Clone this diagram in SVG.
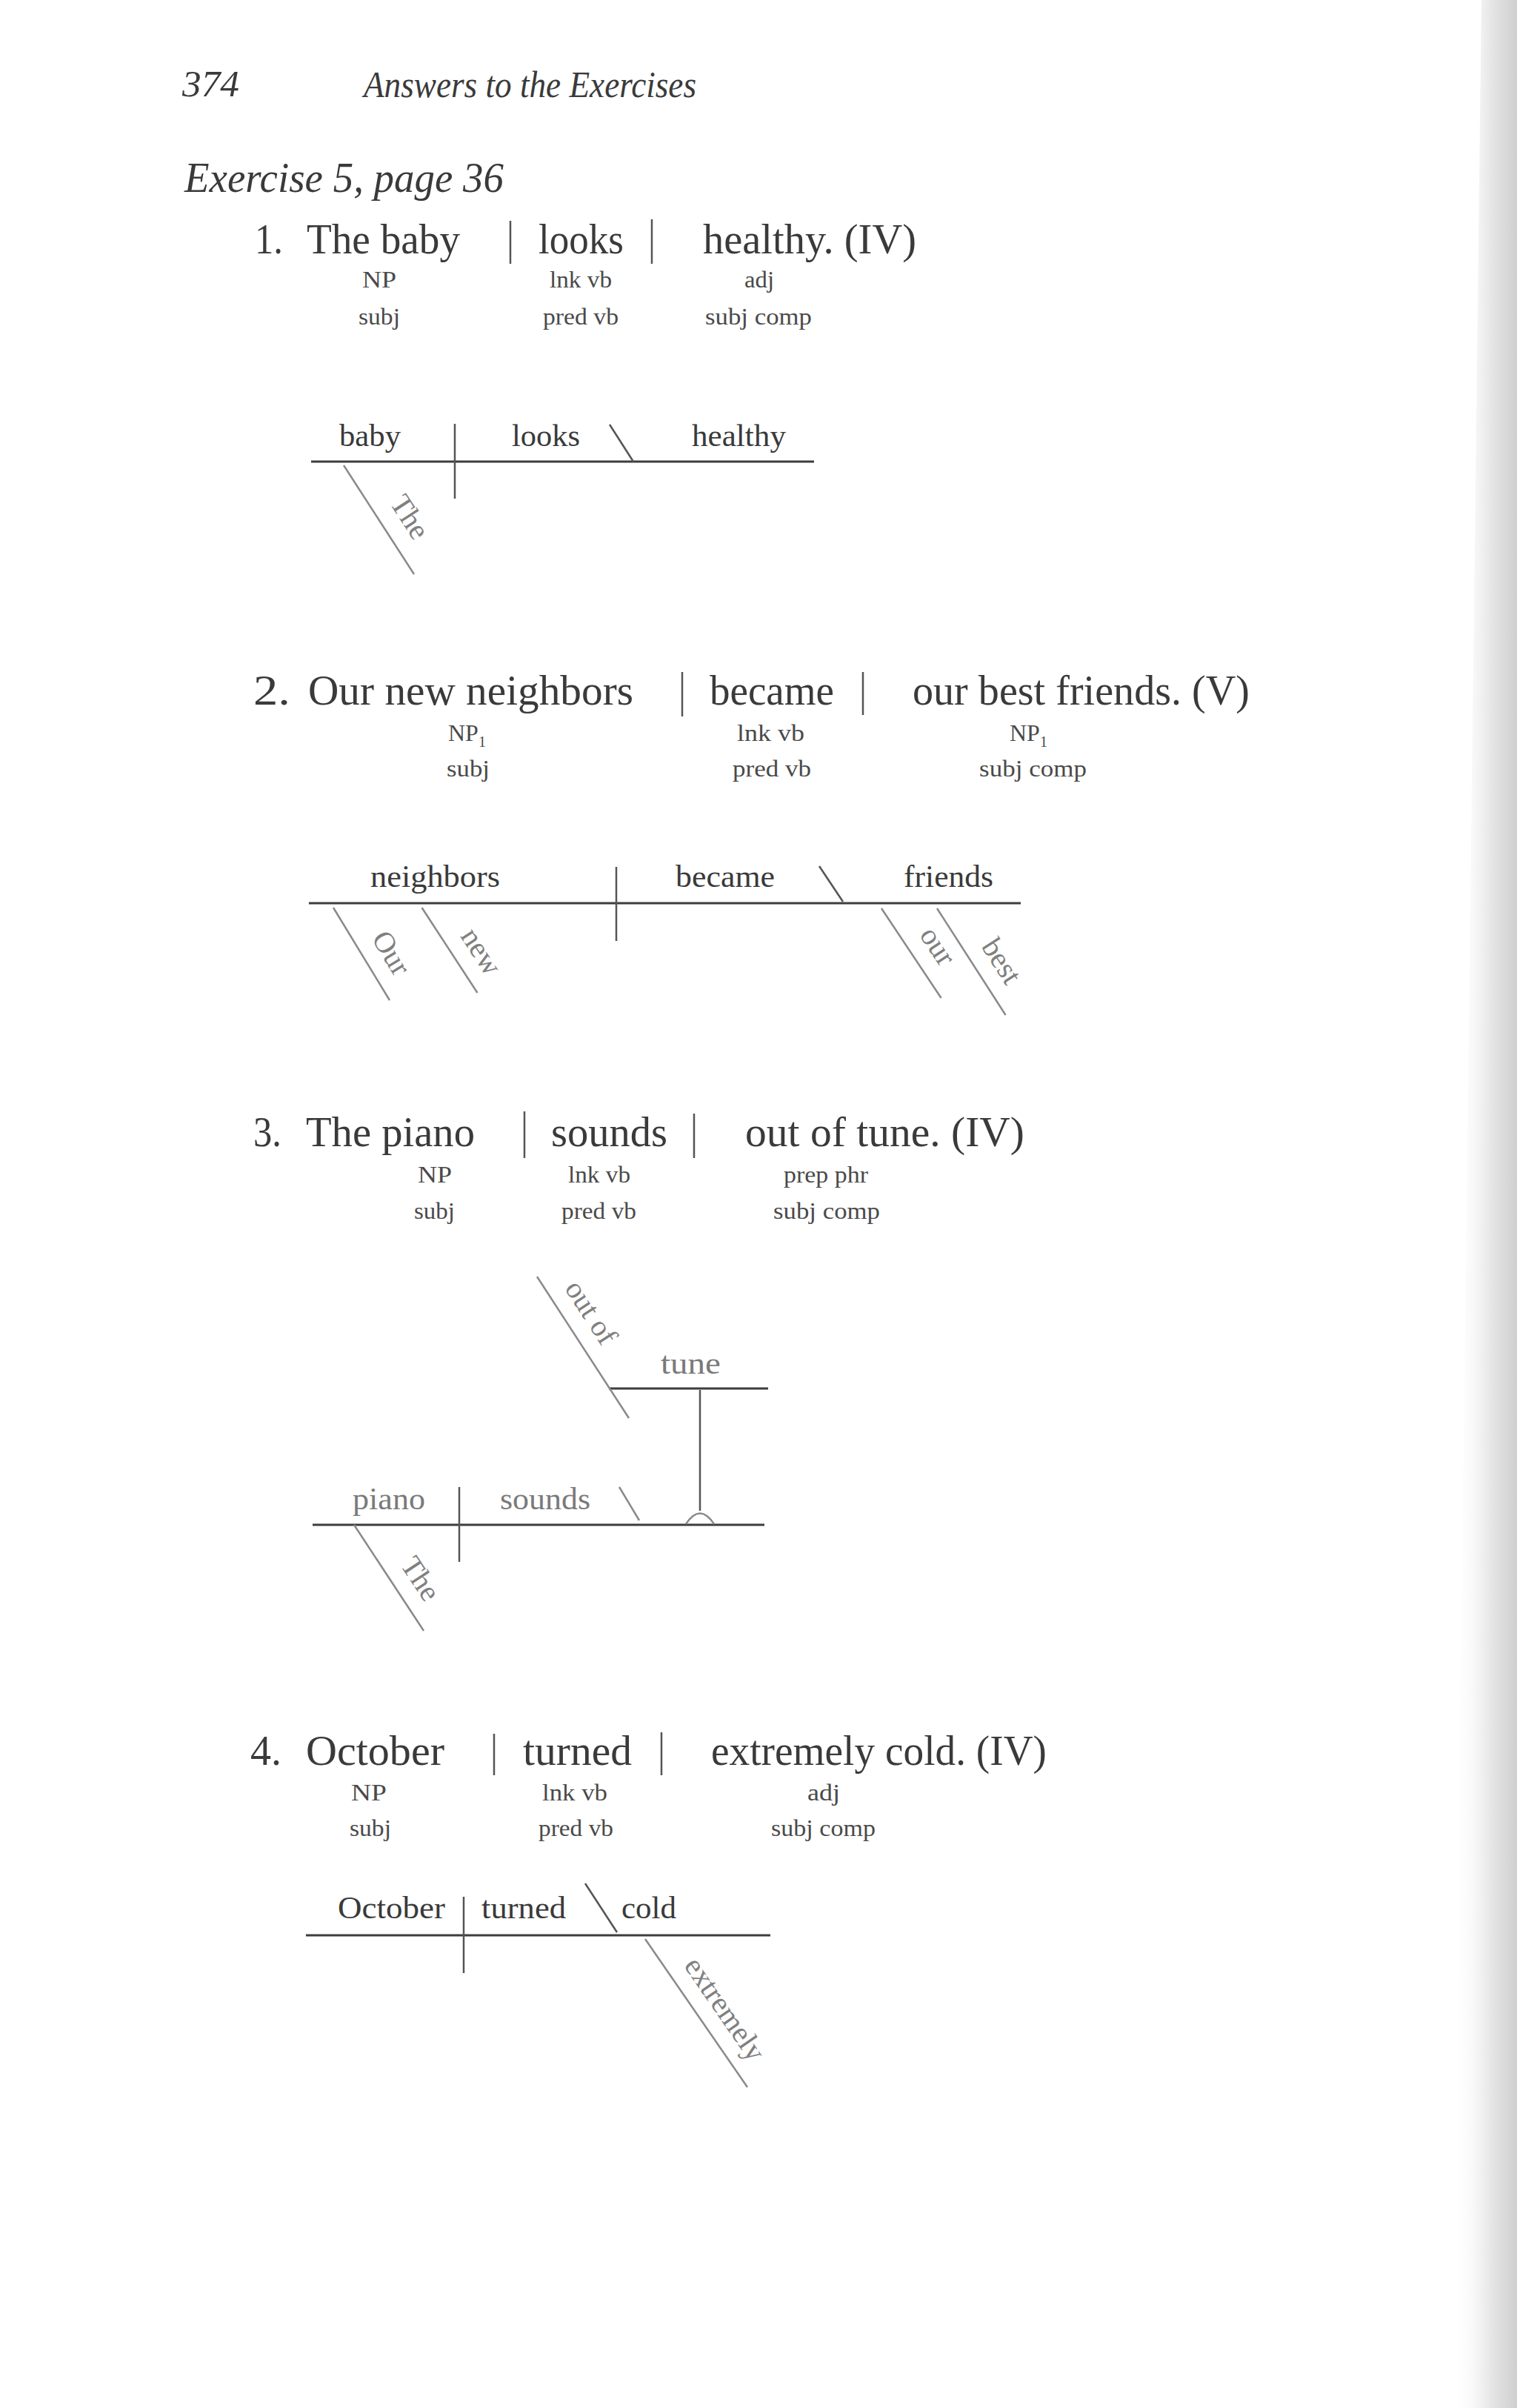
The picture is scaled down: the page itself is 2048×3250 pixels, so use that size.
<svg xmlns="http://www.w3.org/2000/svg" width="2048" height="3250" viewBox="0 0 2048 3250">
<defs>
<linearGradient id="edge" x1="0" y1="0" x2="1" y2="0">
<stop offset="0" stop-color="#ffffff" stop-opacity="0"/>
<stop offset="0.6" stop-color="#e6e6e6"/>
<stop offset="1" stop-color="#cfcfcf"/>
</linearGradient>
<style>
.t{font-family:"Liberation Serif","Times New Roman",serif;fill:#3a3a3a}
.it{font-style:italic}
.hd{font-size:50px}
.ex{font-size:58px}
.main{font-size:56px}
.lab{font-size:32px;fill:#4a4a4a}
.word{font-size:43px}
.pale{fill:#7a7a7a}
.mod{font-size:40px;fill:#808080}
.ln{stroke:#3d3d3d;stroke-width:3;fill:none}
.bar{stroke:#555;stroke-width:2.5;fill:none}
.sl{stroke:#8a8a8a;stroke-width:2.5;fill:none}
.sub{font-size:20px}
</style>
</defs>
<rect x="0" y="0" width="2048" height="3250" fill="#ffffff"/>
<path d="M2000,0 L2048,0 L2048,3250 L1960,3250 Z" fill="url(#edge)"/>

<g id="header">
<text class="t it hd" x="246" y="130" textLength="77" lengthAdjust="spacingAndGlyphs">374</text>
<text class="t it hd" x="491" y="131" textLength="449" lengthAdjust="spacingAndGlyphs">Answers to the Exercises</text>
<text class="t it ex" x="249" y="259" textLength="431" lengthAdjust="spacingAndGlyphs">Exercise 5, page 36</text>
</g>

<!-- Sentence 1 -->
<g id="s1">
<text class="t main" x="344" y="342" textLength="38" lengthAdjust="spacingAndGlyphs">1.</text>
<text class="t main" x="414" y="342" textLength="207" lengthAdjust="spacingAndGlyphs">The baby</text>
<text class="t main" x="727" y="342" textLength="115" lengthAdjust="spacingAndGlyphs">looks</text>
<text class="t main" x="949" y="342" textLength="288" lengthAdjust="spacingAndGlyphs">healthy. (IV)</text>
<text class="t lab" x="489" y="388" textLength="46" lengthAdjust="spacingAndGlyphs">NP</text>
<text class="t lab" x="742" y="388" textLength="84" lengthAdjust="spacingAndGlyphs">lnk vb</text>
<text class="t lab" x="1005" y="388" textLength="40" lengthAdjust="spacingAndGlyphs">adj</text>
<text class="t lab" x="484" y="438" textLength="56" lengthAdjust="spacingAndGlyphs">subj</text>
<text class="t lab" x="733" y="438" textLength="102" lengthAdjust="spacingAndGlyphs">pred vb</text>
<text class="t lab" x="952" y="438" textLength="144" lengthAdjust="spacingAndGlyphs">subj comp</text>
<line class="bar" x1="689" y1="298" x2="689" y2="356"/>
<line class="bar" x1="880" y1="296" x2="880" y2="356"/>
</g>

<!-- Sentence 2 -->
<g id="s2">
<text class="t main" x="342" y="951" textLength="50" lengthAdjust="spacingAndGlyphs">2.</text>
<text class="t main" x="416" y="951" textLength="439" lengthAdjust="spacingAndGlyphs">Our new neighbors</text>
<text class="t main" x="958" y="951" textLength="168" lengthAdjust="spacingAndGlyphs">became</text>
<text class="t main" x="1232" y="951" textLength="455" lengthAdjust="spacingAndGlyphs">our best friends. (V)</text>
<text class="t lab" x="605" y="1000">NP<tspan class="sub" dy="8">1</tspan></text>
<text class="t lab" x="995" y="1000" textLength="91" lengthAdjust="spacingAndGlyphs">lnk vb</text>
<text class="t lab" x="1363" y="1000">NP<tspan class="sub" dy="8">1</tspan></text>
<text class="t lab" x="603" y="1048" textLength="58" lengthAdjust="spacingAndGlyphs">subj</text>
<text class="t lab" x="989" y="1048" textLength="106" lengthAdjust="spacingAndGlyphs">pred vb</text>
<text class="t lab" x="1322" y="1048" textLength="145" lengthAdjust="spacingAndGlyphs">subj comp</text>
<line class="bar" x1="921" y1="907" x2="921" y2="967"/>
<line class="bar" x1="1165" y1="907" x2="1165" y2="965"/>
</g>

<!-- Sentence 3 -->
<g id="s3">
<text class="t main" x="342" y="1547" textLength="38" lengthAdjust="spacingAndGlyphs">3.</text>
<text class="t main" x="413" y="1547" textLength="228" lengthAdjust="spacingAndGlyphs">The piano</text>
<text class="t main" x="744" y="1547" textLength="157" lengthAdjust="spacingAndGlyphs">sounds</text>
<text class="t main" x="1006" y="1547" textLength="377" lengthAdjust="spacingAndGlyphs">out of tune. (IV)</text>
<text class="t lab" x="564" y="1596" textLength="46" lengthAdjust="spacingAndGlyphs">NP</text>
<text class="t lab" x="767" y="1596" textLength="84" lengthAdjust="spacingAndGlyphs">lnk vb</text>
<text class="t lab" x="1058" y="1596" textLength="114" lengthAdjust="spacingAndGlyphs">prep phr</text>
<text class="t lab" x="559" y="1645" textLength="55" lengthAdjust="spacingAndGlyphs">subj</text>
<text class="t lab" x="758" y="1645" textLength="101" lengthAdjust="spacingAndGlyphs">pred vb</text>
<text class="t lab" x="1044" y="1645" textLength="144" lengthAdjust="spacingAndGlyphs">subj comp</text>
<line class="bar" x1="708" y1="1500" x2="708" y2="1563"/>
<line class="bar" x1="937" y1="1503" x2="937" y2="1563"/>
</g>

<!-- Sentence 4 -->
<g id="s4">
<text class="t main" x="338" y="2382" textLength="42" lengthAdjust="spacingAndGlyphs">4.</text>
<text class="t main" x="413" y="2382" textLength="187" lengthAdjust="spacingAndGlyphs">October</text>
<text class="t main" x="706" y="2382" textLength="147" lengthAdjust="spacingAndGlyphs">turned</text>
<text class="t main" x="960" y="2382" textLength="453" lengthAdjust="spacingAndGlyphs">extremely cold. (IV)</text>
<text class="t lab" x="474" y="2430" textLength="48" lengthAdjust="spacingAndGlyphs">NP</text>
<text class="t lab" x="732" y="2430" textLength="88" lengthAdjust="spacingAndGlyphs">lnk vb</text>
<text class="t lab" x="1090" y="2430" textLength="44" lengthAdjust="spacingAndGlyphs">adj</text>
<text class="t lab" x="472" y="2478" textLength="56" lengthAdjust="spacingAndGlyphs">subj</text>
<text class="t lab" x="727" y="2478" textLength="101" lengthAdjust="spacingAndGlyphs">pred vb</text>
<text class="t lab" x="1041" y="2478" textLength="141" lengthAdjust="spacingAndGlyphs">subj comp</text>
<line class="bar" x1="667" y1="2340" x2="667" y2="2396"/>
<line class="bar" x1="893" y1="2338" x2="893" y2="2396"/>
</g>

<!-- Diagram nodes -->
<g id="d1-baby"><text class="t word" x="458" y="602" textLength="83" lengthAdjust="spacingAndGlyphs">baby</text></g>
<g id="d1-looks"><text class="t word" x="691" y="602" textLength="92" lengthAdjust="spacingAndGlyphs">looks</text></g>
<g id="d1-healthy"><text class="t word" x="934" y="602" textLength="127" lengthAdjust="spacingAndGlyphs">healthy</text></g>
<g id="d1-The" transform="translate(464 628) rotate(57.1)"><text class="t mod" x="76" y="-24">The</text></g>

<g id="d2-neighbors"><text class="t word" x="500" y="1197" textLength="175" lengthAdjust="spacingAndGlyphs">neighbors</text></g>
<g id="d2-became"><text class="t word" x="912" y="1197" textLength="134" lengthAdjust="spacingAndGlyphs">became</text></g>
<g id="d2-friends"><text class="t word" x="1220" y="1197" textLength="121" lengthAdjust="spacingAndGlyphs">friends</text></g>
<g id="d2-Our" transform="translate(450 1225) rotate(58.7)"><text class="t mod" x="62" y="-22">Our</text></g>
<g id="d2-new" transform="translate(569.5 1225) rotate(56.9)"><text class="t mod" x="60" y="-22">new</text></g>
<g id="d2-our" transform="translate(1190 1226) rotate(56.3)"><text class="t mod" x="58" y="-22">our</text></g>
<g id="d2-best" transform="translate(1265 1226) rotate(57.3)"><text class="t mod" x="75" y="-22">best</text></g>

<g id="d3-piano"><text class="t word pale" x="476" y="2037" textLength="98" lengthAdjust="spacingAndGlyphs">piano</text></g>
<g id="d3-sounds"><text class="t word pale" x="675" y="2037" textLength="122" lengthAdjust="spacingAndGlyphs">sounds</text></g>
<g id="d3-tune"><text class="t word pale" x="892" y="1854" textLength="81" lengthAdjust="spacingAndGlyphs">tune</text></g>
<g id="d3-outof" transform="translate(725 1723) rotate(57)"><text class="t mod" x="33" y="-22">out of</text></g>
<g id="d3-The" transform="translate(478 2058) rotate(56.7)"><text class="t mod" x="79" y="-22">The</text></g>

<g id="d4-October"><text class="t word" x="456" y="2589" textLength="145" lengthAdjust="spacingAndGlyphs">October</text></g>
<g id="d4-turned"><text class="t word" x="650" y="2589" textLength="114" lengthAdjust="spacingAndGlyphs">turned</text></g>
<g id="d4-cold"><text class="t word" x="839" y="2589" textLength="74" lengthAdjust="spacingAndGlyphs">cold</text></g>
<g id="d4-extremely" transform="translate(871 2617) rotate(55.4)"><text class="t mod" x="59" y="-22">extremely</text></g>

<!-- Connectors -->
<g id="connectors">
<!-- diagram 1 -->
<line class="ln" x1="420" y1="623" x2="1099" y2="623"/>
<line class="bar" x1="614" y1="572" x2="614" y2="673"/>
<line class="bar" x1="823" y1="573" x2="855" y2="623"/>
<line class="sl" x1="464" y1="628" x2="559" y2="775"/>
<!-- diagram 2 -->
<line class="ln" x1="417" y1="1219" x2="1378" y2="1219"/>
<line class="bar" x1="832" y1="1170" x2="832" y2="1270"/>
<line class="bar" x1="1106" y1="1169" x2="1138" y2="1217"/>
<line class="sl" x1="450" y1="1225" x2="526" y2="1350"/>
<line class="sl" x1="569.5" y1="1225" x2="644.5" y2="1340"/>
<line class="sl" x1="1190" y1="1226" x2="1270.6" y2="1347"/>
<line class="sl" x1="1265" y1="1226" x2="1357.6" y2="1370"/>
<!-- diagram 3 -->
<line class="ln" x1="422" y1="2058" x2="1032" y2="2058"/>
<line class="bar" x1="620" y1="2007" x2="620" y2="2108"/>
<line class="sl" x1="836" y1="2007" x2="863" y2="2052"/>
<line class="ln" x1="822" y1="1874" x2="1037" y2="1874"/>
<line class="bar" x1="945" y1="1876" x2="945" y2="2039"/>
<path class="sl" d="M926,2057 Q945,2028 964,2057"/>
<line class="sl" x1="725" y1="1723" x2="849" y2="1914"/>
<line class="sl" x1="478" y1="2058" x2="572" y2="2201"/>
<!-- diagram 4 -->
<line class="ln" x1="413" y1="2612" x2="1040" y2="2612"/>
<line class="bar" x1="626" y1="2560" x2="626" y2="2663"/>
<line class="bar" x1="790" y1="2542" x2="833" y2="2608"/>
<line class="sl" x1="871" y1="2617" x2="1009" y2="2817"/>
</g>
</svg>
